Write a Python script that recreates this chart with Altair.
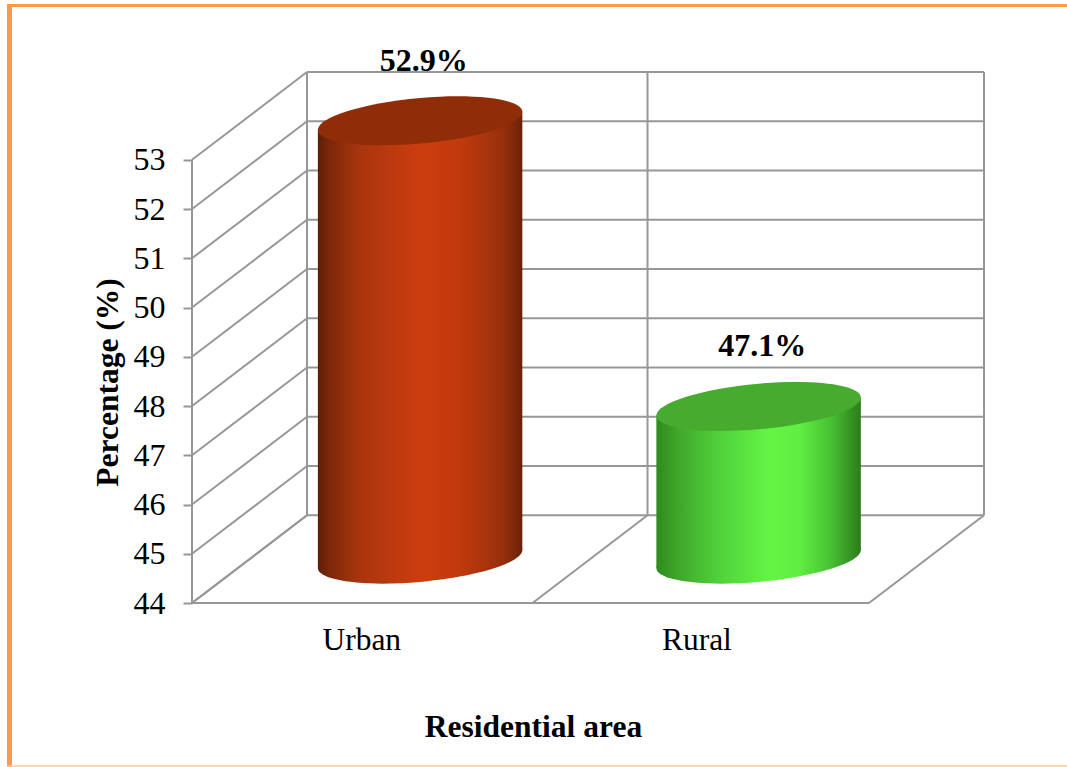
import math

import altair as alt
import pandas as pd

# Survey shares by residential area
categories = ["Urban", "Rural"]
percentages = [52.9, 47.1]
value_ticks = [44, 45, 46, 47, 48, 49, 50, 51, 52, 53]
category_slots = [0, 1.006, 2]
label_slots = [0.5, 1.49]

FONT = "Liberation Serif"
GRID = "#979797"

# Oblique projection of the box: one unit of depth moves a point right and up
DEPTH_X = 115 / 338.5
DEPTH_Y = 87.7 / 49.2
BASE = value_ticks[0]
TOP = value_ticks[-1]
SLOTS = category_slots[-1]


def project(slot, value, depth):
    return slot + depth * DEPTH_X, value + depth * DEPTH_Y


x_scale = alt.Scale(domain=[0, SLOTS + DEPTH_X], nice=False, zero=False)
y_scale = alt.Scale(domain=[BASE, TOP + DEPTH_Y], nice=False, zero=False)


# Segments of the open box: side wall, back wall and floor
segments = []
for v in value_ticks:
    segments.append([(0, v, 0), (0, v, 1)])
    segments.append([(0, v, 1), (SLOTS, v, 1)])
for s in category_slots:
    segments.append([(s, BASE, 0), (s, BASE, 1)])
    segments.append([(s, BASE, 1), (s, TOP, 1)])
segments.append([(0, BASE, 0), (0, TOP, 0)])
segments.append([(0, BASE, 0), (SLOTS, BASE, 0)])

rows = []
for i, seg in enumerate(segments):
    for n, (s, v, d) in enumerate(seg):
        px, py = project(s, v, d)
        rows.append({"seg": i, "n": n, "px": px, "py": py})

grid = (
    alt.Chart(pd.DataFrame(rows))
    .mark_line(color=GRID, strokeWidth=2, clip=False)
    .encode(
        x=alt.X(
            "px:Q",
            scale=x_scale,
            axis=alt.Axis(
                values=label_slots,
                labelExpr="datum.value < 1 ? '%s' : '%s'" % tuple(categories),
                labelFont=FONT,
                labelFontSize=31.5,
                labelColor="#000000",
                labelPadding=21,
                ticks=False,
                domain=False,
                grid=False,
                title="Residential area",
                titleFont=FONT,
                titleFontSize=31.5,
                titleFontWeight="bold",
                titleColor="#000000",
                titleX=341,
                titleY=108,
            ),
        ),
        y=alt.Y(
            "py:Q",
            scale=y_scale,
            axis=alt.Axis(
                values=value_ticks,
                labelFont=FONT,
                labelFontSize=32,
                labelColor="#000000",
                labelPadding=18,
                tickSize=9,
                tickColor=GRID,
                tickWidth=2,
                domain=False,
                grid=False,
                title="Percentage (%)",
                titleFont=FONT,
                titleFontSize=31.5,
                titleFontWeight="bold",
                titleColor="#000000",
                titleX=-68,
                titleY=310,
            ),
        ),
        detail="seg:N",
        order="n:Q",
    )
)

# Cylinder shape: a sheared ellipse, left end lower than the right one
HALF_WIDTH = 0.302
BAR_SHIFT = 0.004
TILT = 0.088
SQUASH = 0.223
KAPPA = 0.5523


def ellipse_path():
    cx, cy = 1.0, -TILT
    sx, sy = 0.0, -SQUASH
    pts = [(cx, cy), (sx, sy), (-cx, -cy), (-sx, -sy), (cx, cy)]
    tans = [(sx, sy), (-cx, -cy), (-sx, -sy), (cx, cy)]
    d = "M%.4f,%.4f" % pts[0]
    for i in range(4):
        a, b = pts[i], pts[i + 1]
        ta, tb = tans[i], tans[(i + 1) % 4]
        d += " C%.4f,%.4f %.4f,%.4f %.4f,%.4f" % (
            a[0] + KAPPA * ta[0],
            a[1] + KAPPA * ta[1],
            b[0] - KAPPA * tb[0],
            b[1] - KAPPA * tb[1],
            b[0],
            b[1],
        )
    return d + " Z"


SHAPE = ellipse_path()
SHAPE_SIZE = 204.5**2
SLANT_VALUE = 9 / 49.2


def shading(stops):
    return alt.Gradient(
        gradient="linear",
        x1=0,
        x2=1,
        y1=0,
        y2=0,
        stops=[alt.GradientStop(offset=o, color=c) for o, c in stops],
    )


urban_stops = [
    (0, "#5F1E06"),
    (0.05, "#7A2608"),
    (0.2, "#A9350E"),
    (0.5, "#CC3D0E"),
    (0.7, "#C0390D"),
    (0.9, "#98300C"),
    (1, "#6A2207"),
]
rural_stops = [
    (0, "#2F8A1C"),
    (0.1, "#3FA52B"),
    (0.3, "#50D03A"),
    (0.55, "#63F544"),
    (0.7, "#5FEE42"),
    (0.85, "#48C233"),
    (1, "#2B7C1B"),
]
shades = [urban_stops, rural_stops]
lids = ["#8F2D08", "#47AB30"]


def cylinder(index):
    centre = index + 0.5 + BAR_SHIFT
    value = percentages[index]
    fill = shading(shades[index])
    ex = alt.X("px:Q", scale=x_scale)
    ey = alt.Y("py:Q", scale=y_scale)

    def end_cap(level, paint):
        px, py = project(centre, level, 0.5)
        return (
            alt.Chart(pd.DataFrame({"px": [px], "py": [py]}))
            .mark_point(
                shape=SHAPE, size=SHAPE_SIZE, filled=True, fill=paint, opacity=1, strokeWidth=0
            )
            .encode(x=ex, y=ey)
        )

    left_x, mid_y = project(centre - HALF_WIDTH, value, 0.5)
    right_x, _ = project(centre + HALF_WIDTH, value, 0.5)
    _, floor_y = project(centre, BASE, 0.5)
    side = pd.DataFrame(
        {
            "px": [left_x, right_x],
            "py": [mid_y - SLANT_VALUE, mid_y + SLANT_VALUE],
            "py2": [floor_y - SLANT_VALUE, floor_y + SLANT_VALUE],
        }
    )
    body = (
        alt.Chart(side)
        .mark_area(fill=fill, orient="vertical", opacity=1)
        .encode(x=ex, y=alt.Y("py:Q", scale=y_scale, stack=None), y2="py2:Q")
    )
    return end_cap(BASE, fill) + body + end_cap(value, lids[index])


# Value labels above each cylinder
label_rows = []
for i, (cat, val) in enumerate(zip(categories, percentages)):
    px, py = project(i + 0.5, val, 0.5)
    label_rows.append({"px": px, "py": py, "text": "%.1f%%" % val})

labels = (
    alt.Chart(pd.DataFrame(label_rows))
    .mark_text(font=FONT, fontSize=32, fontWeight="bold", color="#000000", dy=-60, dx=5)
    .encode(x=alt.X("px:Q", scale=x_scale), y=alt.Y("py:Q", scale=y_scale), text="text:N")
)

# Page frame in orange, offset from the plot origin by the padding below
PAD_LEFT = 192
PAD_TOP = 72
frame_top = alt.Chart().mark_rule(color="#FA9B4C", strokeWidth=3).encode(
    x=alt.value(7 - PAD_LEFT), x2=alt.value(1067 - PAD_LEFT), y=alt.value(5.5 - PAD_TOP)
)
frame_left = alt.Chart().mark_rule(color="#FA9B4C", strokeWidth=5).encode(
    x=alt.value(9.5 - PAD_LEFT), y=alt.value(4 - PAD_TOP), y2=alt.value(767 - PAD_TOP)
)
frame_bottom = alt.Chart().mark_rule(color="#F9C99B", strokeWidth=1.5).encode(
    x=alt.value(7 - PAD_LEFT), x2=alt.value(1067 - PAD_LEFT), y=alt.value(766 - PAD_TOP)
)

chart = (
    alt.layer(
        grid,
        cylinder(0),
        cylinder(1),
        labels,
        frame_top,
        frame_left,
        frame_bottom,
    )
    .properties(
        width=792,
        height=531,
        padding={"left": PAD_LEFT, "top": PAD_TOP, "right": 83, "bottom": 164},
        autosize=alt.AutoSizeParams(type="none"),
        background="#FFFFFF",
    )
    .configure_view(stroke=None)
)

chart.save("out.html", embed_options={"renderer": "svg", "actions": False})
